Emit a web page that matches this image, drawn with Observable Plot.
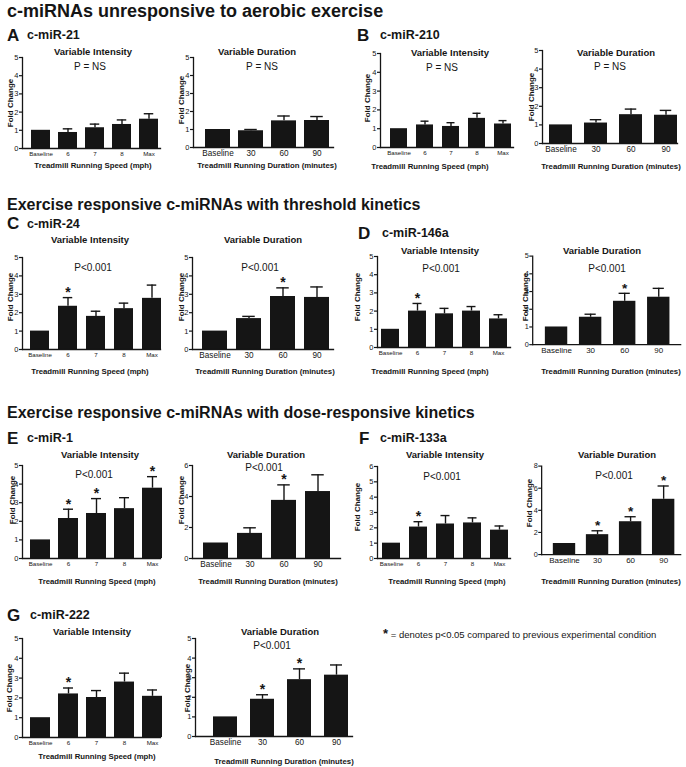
<!DOCTYPE html>
<html><head><meta charset="utf-8">
<script src="https://cdn.jsdelivr.net/npm/d3@7"></script>
<script src="https://cdn.jsdelivr.net/npm/@observablehq/plot@0.6"></script>
<style>
body{margin:0;background:#fff;font-family:"Liberation Sans",Arial,sans-serif;}
#fig{position:relative;width:686px;height:767px;overflow:hidden;background:#fff;}
.c{position:absolute;white-space:nowrap;transform:translate(-50%,-50%);color:#151515;line-height:1;}
.l{position:absolute;white-space:nowrap;transform:translate(0,-50%);color:#151515;line-height:1;}
.rot{transform:translate(-50%,-50%) rotate(-90deg);}
.pw{position:absolute;}
</style></head><body><div id="fig"></div><script>
// ---- categories / tick labels ----
const intensityCats = ["Baseline", "6", "7", "8", "Max"];
const durationCats = ["Baseline", "30", "60", "90"];
// ---- c-miR-21 ----
const mir21IntMean = [1, 0.88, 1.14, 1.32, 1.61];
const mir21IntErr  = [0, 0.20, 0.20, 0.25, 0.30];
const mir21IntStar = [0, 0, 0, 0, 0];
const mir21DurMean = [1, 0.93, 1.48, 1.50];
const mir21DurErr  = [0, 0.07, 0.27, 0.22];
const mir21DurStar = [0, 0, 0, 0];
// ---- c-miR-210 ----
const mir210IntMean = [1, 1.20, 1.12, 1.55, 1.25];
const mir210IntErr  = [0, 0.20, 0.20, 0.27, 0.18];
const mir210IntStar = [0, 0, 0, 0, 0];
const mir210DurMean = [1, 1.10, 1.55, 1.52];
const mir210DurErr  = [0, 0.18, 0.30, 0.26];
const mir210DurStar = [0, 0, 0, 0];
// ---- c-miR-24 ----
const mir24IntMean = [1, 2.35, 1.80, 2.22, 2.78];
const mir24IntErr  = [0, 0.47, 0.28, 0.30, 0.72];
const mir24IntStar = [0, 1, 0, 0, 0];
const mir24DurMean = [1, 1.68, 2.88, 2.83];
const mir24DurErr  = [0, 0.12, 0.47, 0.57];
const mir24DurStar = [0, 0, 1, 0];
// ---- c-miR-146a ----
const mir146aIntMean = [1, 2.00, 1.85, 2.00, 1.57];
const mir146aIntErr  = [0, 0.42, 0.30, 0.25, 0.23];
const mir146aIntStar = [0, 1, 0, 0, 0];
const mir146aDurMean = [1, 1.55, 2.45, 2.68];
const mir146aDurErr  = [0, 0.17, 0.45, 0.50];
const mir146aDurStar = [0, 0, 1, 0];
// ---- c-miR-1 ----
const mir1IntMean = [1, 2.15, 2.42, 2.68, 3.78];
const mir1IntErr  = [0, 0.50, 0.80, 0.59, 0.62];
const mir1IntStar = [0, 1, 1, 0, 1];
const mir1DurMean = [1, 1.62, 3.75, 4.32];
const mir1DurErr  = [0, 0.36, 1.00, 1.08];
const mir1DurStar = [0, 0, 1, 0];
// ---- c-miR-133a ----
const mir133aIntMean = [1, 2.05, 2.25, 2.32, 1.85];
const mir133aIntErr  = [0, 0.35, 0.55, 0.33, 0.27];
const mir133aIntStar = [0, 1, 0, 0, 0];
const mir133aDurMean = [1, 1.80, 2.97, 5.00];
const mir133aDurErr  = [0, 0.35, 0.45, 1.20];
const mir133aDurStar = [0, 1, 1, 1];
// ---- c-miR-222 ----
const mir222IntMean = [1, 2.20, 2.02, 2.80, 2.08];
const mir222IntErr  = [0, 0.30, 0.35, 0.45, 0.32];
const mir222IntStar = [0, 1, 0, 0, 0];
const mir222DurMean = [1, 1.90, 2.90, 3.13];
const mir222DurErr  = [0, 0.23, 0.55, 0.52];
const mir222DurStar = [0, 1, 1, 0];
// ---- texts ----
const sectionTitles = ["c-miRNAs unresponsive to aerobic exercise",
  "Exercise responsive c-miRNAs with threshold kinetics",
  "Exercise responsive c-miRNAs with dose-responsive kinetics"];
const panelLetters = ["A", "B", "C", "D", "E", "F", "G"];
const panelNames = ["c-miR-21", "c-miR-210", "c-miR-24", "c-miR-146a", "c-miR-1", "c-miR-133a", "c-miR-222"];
const pNS = "P = NS", pSig = "P<0.001";
const ticks5 = [0, 1, 2, 3, 4, 5], ticks6 = [0, 1, 2, 3, 4, 5, 6], ticks6e = [0, 2, 4, 6], ticks8 = [0, 2, 4, 6, 8];
const speedLabel = "Treadmill Running Speed (mph)";
const durLabel = "Treadmill Running Duration (minutes)";
const footnote = "= denotes p<0.05 compared to previous experimental condition";

const FONT = '"Liberation Sans", Arial, sans-serif';
const INK = "#151515";
const fig = document.getElementById("fig");

function txt(s, x, y, cls, size, weight, extra) {
  const d = document.createElement("div");
  d.className = cls;
  d.textContent = s;
  d.style.left = x + "px"; d.style.top = y + "px";
  d.style.fontSize = size + "px"; d.style.fontWeight = weight || "normal";
  if (extra) Object.assign(d.style, extra);
  fig.appendChild(d);
  return d;
}

function panel(o) {
  const cats = o.cats;
  const data = cats.map((c, i) => ({c, v: o.mean[i], e: o.err[i], s: o.star[i]}));
  const left = o.ax - 30, top = o.yTop - 14, right = o.xEnd + 6, bottom = o.y0 + 18;
  const n = cats.length, step = (o.c1 - o.c0) / (n - 1);
  const pI = 1 - o.bw / step;
  const withErr = data.filter(d => d.e > 0);
  const svg = Plot.plot({
    width: right - left, height: bottom - top,
    marginLeft: o.ax - left, marginTop: o.yTop - top,
    marginRight: right - o.xEnd, marginBottom: bottom - o.y0,
    style: {fontFamily: FONT, background: "transparent", color: INK, overflow: "visible"},
    x: {type: "band", domain: cats, range: [o.c0 - step / 2 - left, o.c1 + step / 2 - left],
        paddingInner: pI, paddingOuter: pI / 2, label: null},
    y: {domain: [0, o.ymax], label: null},
    marks: [
      Plot.barY(data, {x: "c", y: "v", fill: INK}),
      Plot.ruleX(withErr, {x: "c", y1: "v", y2: d => d.v + d.e, stroke: INK, strokeWidth: 1.4}),
      Plot.tickY(withErr, {x: "c", y: d => d.v + d.e, stroke: INK, strokeWidth: 1.4,
        insetLeft: o.bw / 4, insetRight: o.bw / 4}),
      Plot.text(data.filter(d => d.s), {x: "c", y: d => d.v + d.e, text: () => "*",
        dy: -5, fontSize: 14, fontWeight: "bold", fill: INK}),
      Plot.frame({anchor: "left", stroke: INK, strokeWidth: 1.3}),
      Plot.frame({anchor: "bottom", stroke: INK, strokeWidth: 1.3}),
      Plot.axisY({ticks: o.ticks, tickFormat: d => String(d), tickSize: 3, tickPadding: 1, fontSize: 7.5,
        label: null, stroke: INK, strokeWidth: 1.2}),
      Plot.axisX({tickSize: 0, tickPadding: o.small ? 3.5 : 2.5, fontSize: o.small ? 6.2 : 8.2, label: null})
    ]
  });
  const w = document.createElement("div");
  w.className = "pw";
  w.style.left = left + "px"; w.style.top = top + "px";
  w.appendChild(svg);
  fig.appendChild(w);
  txt(o.title, o.tt[0], o.tt[1], "c", 9.5, "bold");
  if (o.p) txt(o.p[2], o.p[0], o.p[1], "c", 10, "normal");
  txt(o.xl[2], o.xl[0], o.xl[1], "c", 7.8, "bold");
  txt("Fold Change", o.fc[0], o.fc[1], "c rot", 8, "bold");
}

const VI = "Variable Intensity", VD = "Variable Duration";
const panels = [
  {cats: intensityCats, mean: mir21IntMean, err: mir21IntErr, star: mir21IntStar, ymax: 5, ticks: ticks5, small: true,
   ax: 22, y0: 148, yTop: 57, xEnd: 160, c0: 39, c1: 149, bw: 19, title: VI, tt: [93, 52], p: [90, 67, pNS], xl: [93, 166, speedLabel], fc: [11, 103]},
  {cats: durationCats, mean: mir21DurMean, err: mir21DurErr, star: mir21DurStar, ymax: 5, ticks: ticks5,
   ax: 193, y0: 147, yTop: 57, xEnd: 333, c0: 217, c1: 317, bw: 25, title: VD, tt: [257, 52], p: [262, 67, pNS], xl: [267, 166, durLabel], fc: [182, 100]},
  {cats: intensityCats, mean: mir210IntMean, err: mir210IntErr, star: mir210IntStar, ymax: 5, ticks: ticks5, small: true,
   ax: 380, y0: 147, yTop: 53, xEnd: 513, c0: 397, c1: 504, bw: 18, title: VI, tt: [450, 53], p: [442, 68, pNS], xl: [430, 167, speedLabel], fc: [368, 98]},
  {cats: durationCats, mean: mir210DurMean, err: mir210DurErr, star: mir210DurStar, ymax: 5, ticks: ticks5,
   ax: 542, y0: 143, yTop: 50, xEnd: 677, c0: 560, c1: 665, bw: 23, title: VD, tt: [616, 53], p: [610, 67, pNS], xl: [611, 167, durLabel], fc: [532, 97]},
  {cats: intensityCats, mean: mir24IntMean, err: mir24IntErr, star: mir24IntStar, ymax: 5, ticks: ticks5, small: true,
   ax: 22, y0: 349, yTop: 257, xEnd: 160, c0: 39, c1: 152, bw: 19, title: VI, tt: [90, 240], p: [93, 268, pSig], xl: [90, 372, speedLabel], fc: [11, 297]},
  {cats: durationCats, mean: mir24DurMean, err: mir24DurErr, star: mir24DurStar, ymax: 5, ticks: ticks5,
   ax: 192, y0: 349, yTop: 257, xEnd: 333, c0: 213, c1: 317, bw: 25, title: VD, tt: [263, 240], p: [260, 268, pSig], xl: [265, 372, durLabel], fc: [182, 297]},
  {cats: intensityCats, mean: mir146aIntMean, err: mir146aIntErr, star: mir146aIntStar, ymax: 5, ticks: ticks5, small: true,
   ax: 377, y0: 347, yTop: 256, xEnd: 510, c0: 388, c1: 499, bw: 18, title: VI, tt: [440, 251], p: [441, 269, pSig], xl: [430, 372, speedLabel], fc: [358, 297]},
  {cats: durationCats, mean: mir146aDurMean, err: mir146aDurErr, star: mir146aDurStar, ymax: 5, ticks: ticks5,
   ax: 533, y0: 347, yTop: 256, xEnd: 685, c0: 557, c1: 662, bw: 23, title: VD, tt: [602, 251], p: [607, 269, pSig], xl: [611, 372, durLabel], fc: [526, 297]},
  {cats: intensityCats, mean: mir1IntMean, err: mir1IntErr, star: mir1IntStar, ymax: 5, ticks: ticks5, small: true,
   ax: 22, y0: 558, yTop: 465, xEnd: 160, c0: 39, c1: 152, bw: 20, title: VI, tt: [100, 455], p: [94, 475, pSig], xl: [97, 582, speedLabel], fc: [13, 500]},
  {cats: durationCats, mean: mir1DurMean, err: mir1DurErr, star: mir1DurStar, ymax: 6, ticks: ticks6e,
   ax: 192, y0: 558, yTop: 465, xEnd: 340, c0: 215, c1: 318, bw: 25, title: VD, tt: [266, 455], p: [264, 468, pSig], xl: [268, 582, durLabel], fc: [182, 500]},
  {cats: intensityCats, mean: mir133aIntMean, err: mir133aIntErr, star: mir133aIntStar, ymax: 6, ticks: ticks6, small: true,
   ax: 377, y0: 558, yTop: 466, xEnd: 510, c0: 390, c1: 500, bw: 18, title: VI, tt: [445, 455], p: [442, 477, pSig], xl: [447, 582, speedLabel], fc: [358, 507]},
  {cats: durationCats, mean: mir133aDurMean, err: mir133aDurErr, star: mir133aDurStar, ymax: 8, ticks: ticks8,
   ax: 542, y0: 557, yTop: 466, xEnd: 685, c0: 565, c1: 668, bw: 23, title: VD, tt: [617, 455], p: [614, 476, pSig], xl: [611, 582, durLabel], fc: [530, 503]},
  {cats: intensityCats, mean: mir222IntMean, err: mir222IntErr, star: mir222IntStar, ymax: 5, ticks: ticks5, small: true,
   ax: 22, y0: 737, yTop: 638, xEnd: 160, c0: 39, c1: 152, bw: 20, title: VI, tt: [92, 632], p: null, xl: [97, 757, speedLabel], fc: [10, 688]},
  {cats: durationCats, mean: mir222DurMean, err: mir222DurErr, star: mir222DurStar, ymax: 5, ticks: ticks5,
   ax: 195, y0: 736, yTop: 638, xEnd: 352, c0: 225, c1: 336, bw: 24, title: VD, tt: [280, 632], p: [272, 646, pSig], xl: [284, 762, durLabel], fc: [188, 688]}
];
panels.forEach(panel);

// section titles, panel labels, footnote
const secPos = [[7, 11, 18], [7, 205, 16], [7, 413, 16]];
sectionTitles.forEach((s, i) => txt(s, secPos[i][0], secPos[i][1], "l", secPos[i][2], "bold"));
const letterPos = [[7, 35], [357, 35], [7, 223], [358, 233], [7, 438], [359, 438], [7, 615]];
const namePos = [[27, 35], [380, 35], [27, 224], [382, 233], [27, 438], [380, 438], [30, 615]];
panelLetters.forEach((s, i) => txt(s, letterPos[i][0], letterPos[i][1], "l", 17, "bold"));
panelNames.forEach((s, i) => txt(s, namePos[i][0], namePos[i][1], "l", 12.5, "bold"));
const fn = txt("", 383, 633, "l", 9.5, "normal");
const st = document.createElement("span"); st.textContent = "*"; st.style.fontWeight = "bold"; st.style.fontSize = "13px";
fn.appendChild(st); fn.appendChild(document.createTextNode(" " + footnote));
</script></body></html>
